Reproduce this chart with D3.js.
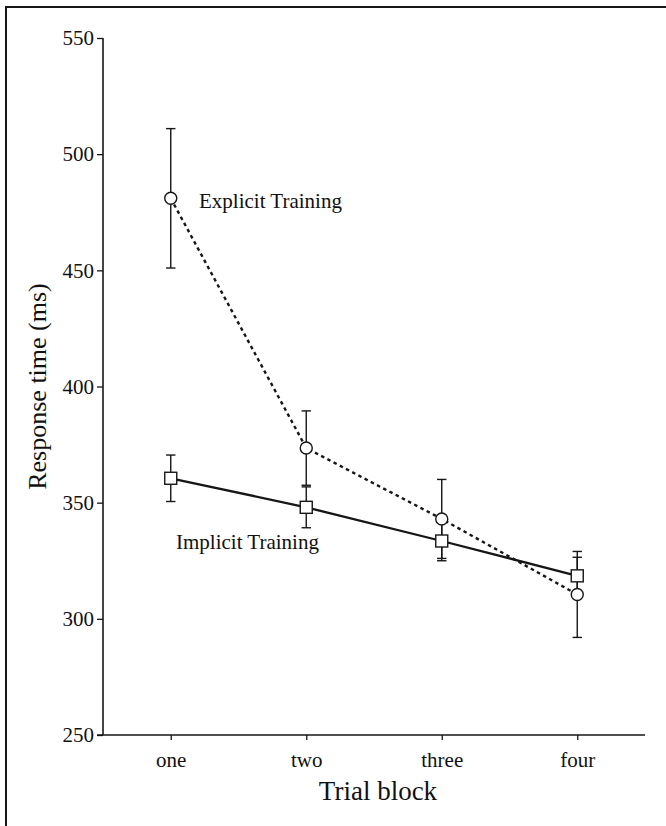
<!DOCTYPE html>
<html>
<head>
<meta charset="utf-8">
<script src="https://cdn.jsdelivr.net/npm/d3@7"></script>
<style>
  html, body { margin: 0; padding: 0; background: #fff; }
  svg { display: block; }
  text { font-family: "Liberation Serif", "Times New Roman", serif; fill: #111; }
</style>
</head>
<body>
<svg id="chart" width="666" height="826"></svg>
<script>
const categories = ["one", "two", "three", "four"];
const explicitMeans = [481, 373.5, 343, 310.5];
const explicitErr   = [30, 16, 17, 18.5];
const implicitMeans = [360.5, 348, 333.5, 318.5];
const implicitErr   = [10, 8.8, 8.5, 8];
const yTicks = [250, 300, 350, 400, 450, 500, 550];
const seriesNames = ["Explicit Training", "Implicit Training"];
const xTitle = "Trial block";
const yTitle = "Response time (ms)";

const svg = d3.select("#chart");
const ink = "#161616";

// frame (top/left edges of the scanned figure)
svg.append("path").attr("d", "M6,826 V7 H666").attr("fill", "none").attr("stroke", ink).attr("stroke-width", 2);

const x = d3.scalePoint().domain(categories).range([103, 645]).padding(0.5);
const y = d3.scaleLinear().domain([250, 550]).range([735, 38]);

// y axis
const yAxis = svg.append("g").attr("transform", "translate(103,0)")
  .call(d3.axisLeft(y).tickValues(yTicks).tickSize(6).tickPadding(3).tickFormat(d3.format("d")));
yAxis.select(".domain").attr("d", `M0,${y(550)}V${y(250)}`).attr("stroke", ink).attr("stroke-width", 1.6);
yAxis.selectAll(".tick line").attr("stroke", ink).attr("stroke-width", 1.3);
yAxis.selectAll(".tick text").style("font-family", "Liberation Serif, serif").style("font-size", "21px").attr("fill", ink);

// x axis
const xAxis = svg.append("g").attr("transform", `translate(0,${y(250)})`)
  .call(d3.axisBottom(x).tickSize(5).tickPadding(12));
xAxis.select(".domain").attr("d", `M97,0H645`).attr("stroke", ink).attr("stroke-width", 1.6);
xAxis.selectAll(".tick line").attr("stroke", ink).attr("stroke-width", 1.3);
xAxis.selectAll(".tick text").style("font-family", "Liberation Serif, serif").style("font-size", "21px").attr("fill", ink);

// axis titles
svg.append("text").attr("x", 378).attr("y", 800).attr("text-anchor", "middle")
  .style("font-size", "27px").text(xTitle);
svg.append("text").attr("transform", `translate(46,${y(400)}) rotate(-90)`).attr("text-anchor", "middle")
  .style("font-size", "26px").text(yTitle);

const exp = categories.map((c, i) => ({c, v: explicitMeans[i], e: explicitErr[i]}));
const imp = categories.map((c, i) => ({c, v: implicitMeans[i], e: implicitErr[i]}));

const line = d3.line().x(d => x(d.c)).y(d => y(d.v));

svg.append("path").datum(imp).attr("d", line).attr("fill", "none")
  .attr("stroke", ink).attr("stroke-width", 2.3);
svg.append("path").datum(exp).attr("d", line).attr("fill", "none")
  .attr("stroke", ink).attr("stroke-width", 2.4).attr("stroke-dasharray", "3.5,3.5");

function errorBars(data) {
  const g = svg.append("g").attr("stroke", ink).attr("stroke-width", 1.4);
  data.forEach(d => {
    const cx = x(d.c);
    g.append("line").attr("x1", cx).attr("x2", cx).attr("y1", y(d.v + d.e)).attr("y2", y(d.v - d.e));
    [d.v + d.e, d.v - d.e].forEach(v => {
      g.append("line").attr("x1", cx - 4.7).attr("x2", cx + 4.7).attr("y1", y(v)).attr("y2", y(v));
    });
  });
}
errorBars(exp);
errorBars(imp);

svg.append("g").selectAll("rect").data(imp).join("rect")
  .attr("x", d => x(d.c) - 6).attr("y", d => y(d.v) - 6).attr("width", 12).attr("height", 12)
  .attr("fill", "#fff").attr("stroke", ink).attr("stroke-width", 1.4);
svg.append("g").selectAll("circle").data(exp).join("circle")
  .attr("cx", d => x(d.c)).attr("cy", d => y(d.v)).attr("r", 6)
  .attr("fill", "#fff").attr("stroke", ink).attr("stroke-width", 1.4);

// series labels
svg.append("text").attr("x", 199).attr("y", 208).style("font-size", "21px").text(seriesNames[0]);
svg.append("text").attr("x", 176).attr("y", 549).style("font-size", "21px").text(seriesNames[1]);
</script>
</body>
</html>
